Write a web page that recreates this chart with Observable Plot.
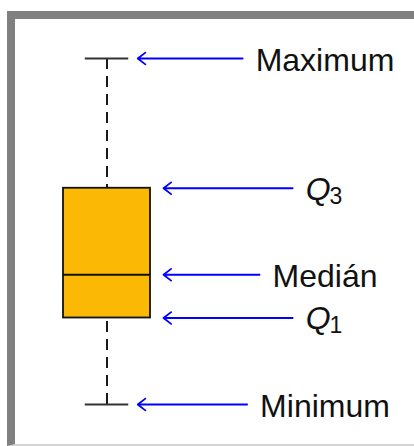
<!DOCTYPE html>
<html><head><meta charset="utf-8">
<script src="https://cdn.jsdelivr.net/npm/d3@7"></script>
<script src="https://cdn.jsdelivr.net/npm/@observablehq/plot@0.6"></script>
<style>
html,body{margin:0;padding:0;background:#fff;}
#wrap{position:relative;width:414px;height:446px;overflow:hidden;}
#frame{position:absolute;left:7px;top:11px;width:407px;height:435px;box-sizing:border-box;border-top:8px solid #808080;border-left:8px solid #808080;border-bottom:2px solid #d4d4d4;}
#chart{position:absolute;left:0;top:0;}
</style></head><body>
<div id="wrap"><div id="frame"></div><div id="chart"></div></div>
<script>
// ---- data ----
const stats = ["max", "q3", "median", "q1", "min"];
const values = [10, 6.25, 3.75, 2.5, 0];
const labels = ["Maximum", "Q", "Medián", "Q", "Minimum"];
const subscripts = ["", "3", "", "1", ""];

// ---- layout (box units: box centre 0, box width 1) ----
const W = 414, H = 446;
const unitPx = 87, centrePx = 106.5;
const px2u = p => (p - centrePx) / unitPx;
const capHalf = 0.25, boxHalf = 0.5;
const mainFont = 32, qFont = 32, subFont = 23;
const family = "Liberation Sans";

const v = Object.fromEntries(stats.map((s, i) => [s, values[i]]));

const ctx = document.createElement("canvas").getContext("2d");
function tw(t, f) { ctx.font = f; return ctx.measureText(t).width; }

const rows = stats.map((s, i) => {
  const isQ = subscripts[i] !== "";
  const mw = isQ ? tw(labels[i], `italic ${qFont}px "${family}"`) : tw(labels[i], `${mainFont}px "${family}"`);
  const sw = isQ ? tw(subscripts[i], `${subFont}px "${family}"`) + 1 : 0;
  const leftPx = 324.5 - (mw + sw) / 2;
  const onCap = s === "max" || s === "min";
  return {
    stat: s, v: values[i], label: labels[i], sub: subscripts[i], isQ,
    x: px2u(leftPx), xs: px2u(leftPx + mw - 1),
    tail: px2u(leftPx - 13),
    head: onCap ? capHalf + 9 / unitPx : boxHalf + 13 / unitPx
  };
});

const whiskers = [{y1: v.max, y2: v.q3}, {y1: v.min, y2: v.q1}];
const caps = [v.max, v.min];

const chart = Plot.plot({
  width: W, height: H,
  marginLeft: 0, marginRight: 0, marginTop: 58, marginBottom: H - 404,
  style: {background: "transparent", overflow: "visible"},
  x: {domain: [px2u(0), px2u(W)], axis: null},
  y: {domain: [0, 10], axis: null},
  marks: [
    Plot.ruleX(whiskers, {x: 0, y1: "y1", y2: "y2", stroke: "#1a1a1a", strokeWidth: 2, strokeDasharray: "11,7"}),
    Plot.ruleY(caps, {y: d => d, x1: -capHalf, x2: capHalf, stroke: "#333", strokeWidth: 2.2}),
    Plot.rect([v], {x1: -boxHalf, x2: boxHalf, y1: "q1", y2: "q3", fill: "#fbb905", stroke: "#111", strokeWidth: 1.8}),
    Plot.ruleY([v.median], {y: d => d, x1: -boxHalf, x2: boxHalf, stroke: "#111", strokeWidth: 1.8}),
    Plot.arrow(rows, {x1: "tail", x2: "head", y1: "v", y2: "v", stroke: "#0000ff", strokeWidth: 1.8, headLength: 8, headAngle: 75, bend: 0}),
    Plot.text(rows.filter(d => !d.isQ), {x: "x", y: "v", text: "label", textAnchor: "start", fontSize: mainFont, fontFamily: family, fill: "#111", dy: 2}),
    Plot.text(rows.filter(d => d.isQ), {x: "x", y: "v", text: "label", textAnchor: "start", fontSize: qFont, fontFamily: family, fontStyle: "italic", fill: "#111", dy: 1}),
    Plot.text(rows.filter(d => d.isQ), {x: "xs", y: "v", text: "sub", textAnchor: "start", fontSize: subFont, fontFamily: family, fill: "#111", dy: 8})
  ]
});
document.getElementById("chart").appendChild(chart);
</script>
</body></html>
